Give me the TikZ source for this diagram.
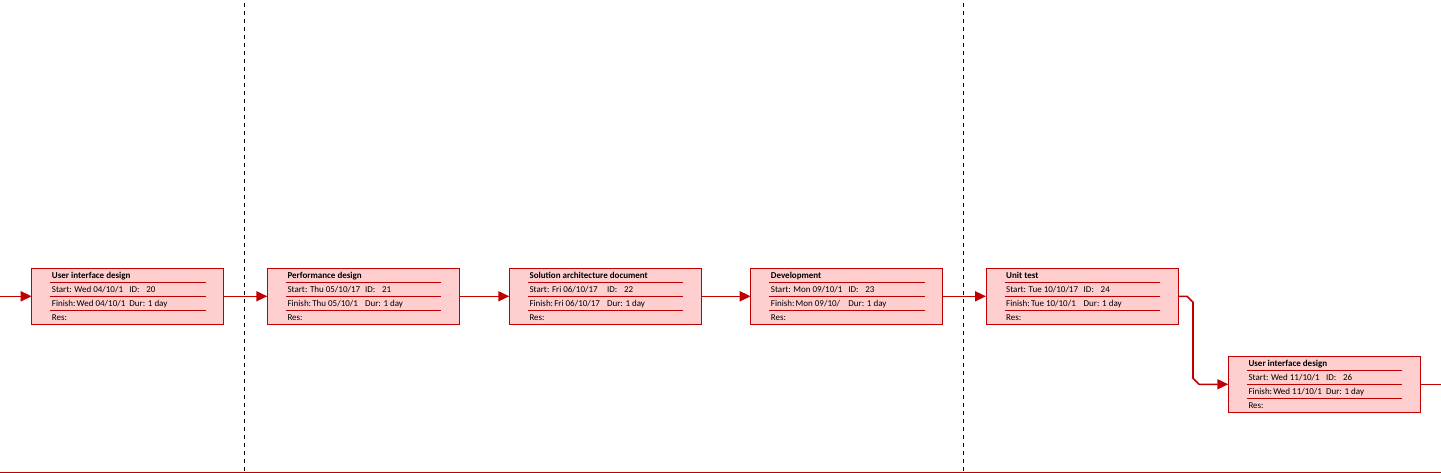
\documentclass[tikz,border=0pt]{standalone}
\usepackage{fontspec}
\setmainfont{Carlito}
\usetikzlibrary{arrows.meta}
\definecolor{crit}{RGB}{192,0,0}
\definecolor{critfill}{RGB}{255,206,206}
\tikzset{
  taskbox/.style={draw=crit, fill=critfill, line width=1pt, minimum width=192pt, minimum height=56pt, inner sep=0pt, outer sep=0pt, anchor=north west},
  sepline/.style={draw=crit, line width=1pt},
  txt/.style={inner sep=0pt, anchor=base west, font=\fontsize{9}{10}\selectfont, text=black},
  titletxt/.style={txt, font=\fontsize{9}{10}\selectfont\bfseries},
  conn/.style={draw=crit, line width=1.6pt, -{Triangle[length=11pt,width=10pt]}},
  connend/.style={draw=crit, line width=1.6pt},
  divider/.style={draw=black, line width=1pt, dash pattern=on 4pt off 4pt},
  baseline/.style={draw=crit, line width=1pt},
}
\newcommand\drawtask[7]{%
  \node[taskbox] (#1) at (#2,#3) {};
  \foreach \dy in {14,28,42}
    \draw[sepline] ([shift={(18.5,\dy)}]#1.north west) -- ([shift={(174,\dy)}]#1.north west);
  \node[titletxt] (#1-title) at ([shift={(20,10)}]#1.north west) {#4};
  \node[txt] (#1-s) at ([shift={(20,24.3)}]#1.north west) {Start:};
  \node[txt] (#1-sd) at ([shift={(42.5,24.3)}]#1.north west) {#5};
  \node[txt] (#1-idl) at ([shift={(97.5,24.3)}]#1.north west) {ID:};
  \node[txt] (#1-id) at ([shift={(114.5,24.3)}]#1.north west) {#6};
  \node[txt] (#1-f) at ([shift={(20,38.3)}]#1.north west) {Finish:};
  \node[txt] (#1-fd) at ([shift={(44.8,38.3)}]#1.north west) {#7};
  \node[txt] (#1-dur) at ([shift={(97.5,38.3)}]#1.north west) {Dur: 1 day};
  \node[txt] (#1-res) at ([shift={(20,52.4)}]#1.north west) {Res:};
}
\begin{document}
\begin{tikzpicture}[x=1pt,y=-1pt]
  \useasboundingbox[fill=white] (0,0) rectangle (1441,473);
  % dividers
  \coordinate (d1top) at (244.3,3);
  \coordinate (d1bot) at (244.3,471);
  \coordinate (d2top) at (963.3,3);
  \coordinate (d2bot) at (963.3,471);
  \draw[divider] (d1top) -- (d1bot);
  \draw[divider] (d2top) -- (d2bot);
  % bottom line
  \coordinate (bl) at (0,472.3);
  \coordinate (br) at (1441,472.3);
  \draw[baseline] (bl) -- (br);
  % tasks
  \drawtask{b20}{31.7}{268.3}{User interface design}{Wed 04/10/1}{20}{Wed 04/10/1}
  \drawtask{b21}{267.3}{268.3}{Performance design}{Thu 05/10/17}{21}{Thu 05/10/1}
  \drawtask{b22}{509.3}{268.3}{Solution architecture document}{Fri 06/10/17}{22}{Fri 06/10/17}
  \drawtask{b23}{750.7}{268.3}{Development}{Mon 09/10/1}{23}{Mon 09/10/}
  \drawtask{b24}{986}{268.3}{Unit test}{Tue 10/10/17}{24}{Tue 10/10/1}
  \drawtask{b26}{1228.3}{356.3}{User interface design}{Wed 11/10/1}{26}{Wed 11/10/1}
  % connectors
  \coordinate (inL) at (0,296.3);
  \coordinate (outR) at (1441,384.3);
  \draw[conn] (inL) -- (b20.west);
  \draw[conn] (b20.east) -- (b21.west);
  \draw[conn] (b21.east) -- (b22.west);
  \draw[conn] (b22.east) -- (b23.west);
  \draw[conn] (b23.east) -- (b24.west);
  \draw[conn] (b24.east) -- ++(9,0) -- ++(6,6) -- ++(0,76) -- ++(6,6) -- (b26.west);
  \draw[connend] (b26.east) -- (outR);
\end{tikzpicture}
\end{document}
